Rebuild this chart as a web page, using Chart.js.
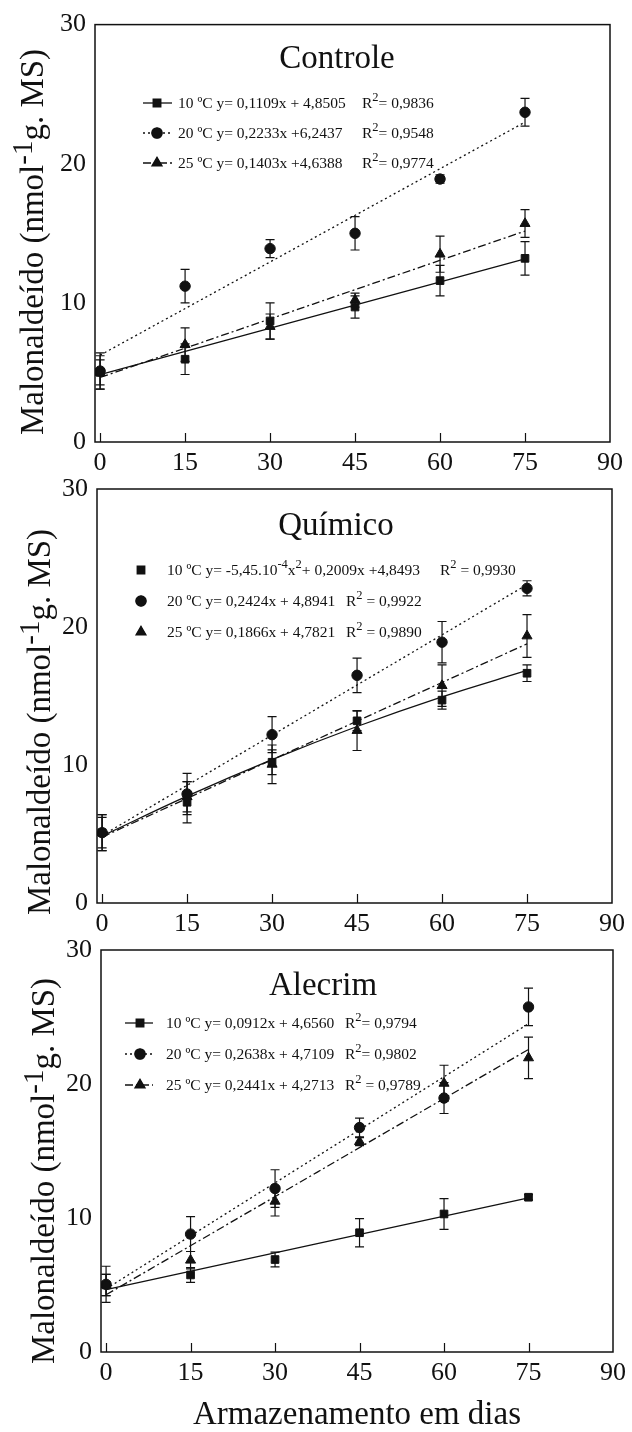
<!DOCTYPE html>
<html>
<head>
<meta charset="utf-8">
<script src="https://cdn.jsdelivr.net/npm/chart.js@4.4.0/dist/chart.umd.min.js"></script>
<style>
  html, body { margin: 0; padding: 0; background: #fff; }
  #wrap { position: relative; width: 632px; height: 1432px; overflow: hidden; background: #fff; }
  canvas { position: absolute; left: 0; }
</style>
</head>
<body>
<div id="wrap">
  <canvas id="controle" width="632" height="480" style="top:0px"></canvas>
  <canvas id="quimico" width="632" height="490" style="top:455px"></canvas>
  <canvas id="alecrim" width="632" height="517" style="top:915px"></canvas>
</div>
<script>
// dias de armazenamento
const dias = [0, 15, 30, 45, 60, 75];
const xTicks = [0, 15, 30, 45, 60, 75, 90];
const yTicks = [0, 10, 20, 30];
const retaX = [0, 75];

// Controle (médias e desvios)
const controle10 = [5.0, 5.95, 8.7, 9.7, 11.6, 13.2];
const controle10Err = [1.2, 1.1, 1.3, 0.8, 1.1, 1.2];
const controle20 = [5.1, 11.2, 13.9, 15.0, 18.9, 23.7];
const controle20Err = [1.3, 1.2, 0.65, 1.2, 0.3, 1.0];
const controle25 = [5.0, 7.0, 8.3, 10.2, 13.5, 15.7];
const controle25Err = [0.9, 1.2, 0.9, 0.5, 1.3, 1.0];
const controleReta10 = [4.85, 13.17];
const controleReta20 = [6.24, 22.99];
const controleReta25 = [4.64, 15.16];

// Químico
const quimico10 = [5.1, 7.3, 10.2, 13.2, 14.7, 16.65];
const quimico10Err = [1.3, 1.5, 0.9, 0.7, 0.65, 0.6];
const quimico20 = [5.1, 7.9, 12.2, 16.5, 18.9, 22.8];
const quimico20Err = [1.3, 1.5, 1.3, 1.25, 1.5, 0.55];
const quimico25 = [5.1, 7.7, 10.05, 12.5, 15.75, 19.35];
const quimico25Err = [1.1, 1.1, 1.4, 1.45, 1.5, 1.55];
const quimicoCurva10 = [4.85, 7.74, 10.39, 12.79, 14.94, 16.85]; // ajuste quadrático, nos dias
const quimicoReta20 = [4.89, 23.07];
const quimicoReta25 = [4.78, 18.78];

// Alecrim
const alecrim10 = [5.0, 5.75, 6.9, 8.9, 10.3, 11.55];
const alecrim10Err = [0.8, 0.55, 0.55, 1.05, 1.15, 0.2];
const alecrim20 = [5.05, 8.8, 12.2, 16.75, 18.95, 25.75];
const alecrim20Err = [1.35, 1.3, 1.4, 0.7, 1.15, 1.4];
const alecrim25 = [5.0, 6.85, 11.25, 15.7, 20.05, 21.95];
const alecrim25Err = [0.8, 0.65, 1.1, 0.3, 1.35, 1.55];
const alecrimReta10 = [4.66, 11.5];
const alecrimReta20 = [4.71, 24.5];
const alecrimReta25 = [4.27, 22.58];

// textos ("^" = sobrescrito)
const tituloY = ['Malonaldeído (nmol', '^-1', 'g. MS)'];
const tituloX = 'Armazenamento em dias';
const legendaControle = [
    [['10 ºC y= 0,1109x + 4,8505'], ['R', '^2', '= 0,9836']],
    [['20 ºC y= 0,2233x +6,2437'], ['R', '^2', '= 0,9548']],
    [['25 ºC y= 0,1403x +4,6388'], ['R', '^2', '= 0,9774']]
];
const legendaQuimico = [
    [['10 ºC y= -5,45.10', '^-4', 'x', '^2', '+ 0,2009x +4,8493'], ['R', '^2', ' = 0,9930']],
    [['20 ºC y= 0,2424x + 4,8941'], ['R', '^2', ' = 0,9922']],
    [['25 ºC y= 0,1866x + 4,7821'], ['R', '^2', ' = 0,9890']]
];
const legendaAlecrim = [
    [['10 ºC y= 0,0912x + 4,6560'], ['R', '^2', '= 0,9794']],
    [['20 ºC y= 0,2638x + 4,7109'], ['R', '^2', '= 0,9802']],
    [['25 ºC y= 0,2441x + 4,2713'], ['R', '^2', ' = 0,9789']]
];

const serif = "'Liberation Serif', 'Times New Roman', serif";
const preto = '#111';
const marcas = ['rect', 'circle', 'triangle'];
const raios = [5.4, 5.2, 5.8];
const tracos = [[], [2, 3], [8, 3, 2, 3]];

function pontos(xs, ys) {
    return xs.map((x, i) => ({ x: x, y: ys[i] }));
}

function desenhaRuns(ctx, runs, x, y, tam, tamSup, subida) {
    runs.forEach(r => {
        const sup = r.startsWith('^');
        const t = sup ? r.slice(1) : r;
        ctx.font = (sup ? tamSup : tam) + 'px ' + serif;
        ctx.fillText(t, x, sup ? y - subida : y);
        x += ctx.measureText(t).width;
    });
    return x;
}

function larguraRuns(ctx, runs, tam, tamSup) {
    let w = 0;
    runs.forEach(r => {
        const sup = r.startsWith('^');
        const t = sup ? r.slice(1) : r;
        ctx.font = (sup ? tamSup : tam) + 'px ' + serif;
        w += ctx.measureText(t).width;
    });
    return w;
}

function desenhaMarca(ctx, estilo, x, y, r) {
    Chart.helpers.drawPoint(ctx, { pointStyle: estilo, radius: r, borderWidth: 1 }, x, y);
    ctx.fill();
}

// barras de erro, moldura, títulos e legenda
const extras = {
    id: 'extras',
    beforeDatasetsDraw(chart) {
        const ctx = chart.ctx, xs = chart.scales.x, ys = chart.scales.y;
        ctx.save();
        ctx.strokeStyle = preto;
        ctx.lineWidth = 1.2;
        chart.data.datasets.forEach(ds => {
            if (!ds.erros) return;
            ds.data.forEach((p, i) => {
                const e = ds.erros[i];
                const x = xs.getPixelForValue(p.x);
                const y1 = ys.getPixelForValue(p.y - e);
                const y2 = ys.getPixelForValue(p.y + e);
                ctx.beginPath();
                ctx.moveTo(x, y1); ctx.lineTo(x, y2);
                ctx.moveTo(x - 4.5, y1); ctx.lineTo(x + 4.5, y1);
                ctx.moveTo(x - 4.5, y2); ctx.lineTo(x + 4.5, y2);
                ctx.stroke();
            });
        });
        ctx.restore();
    },
    afterDatasetsDraw(chart, args, o) {
        const ctx = chart.ctx, a = chart.chartArea, xs = chart.scales.x;
        ctx.save();
        ctx.strokeStyle = preto;
        ctx.fillStyle = preto;
        ctx.lineWidth = 1.5;
        ctx.strokeRect(a.left, a.top, a.right - a.left, a.bottom - a.top);
        // marcas internas do eixo x
        ctx.lineWidth = 1.2;
        xTicks.slice(0, -1).forEach(v => {
            const x = Math.round(xs.getPixelForValue(v)) + 0.5;
            ctx.beginPath();
            ctx.moveTo(x, a.bottom);
            ctx.lineTo(x, a.bottom - 9);
            ctx.stroke();
        });

        // título do painel
        ctx.font = '33px ' + serif;
        ctx.textAlign = 'center';
        ctx.textBaseline = 'alphabetic';
        ctx.fillText(o.titulo, o.tituloX, o.tituloY);

        // título do eixo y (girado)
        ctx.textAlign = 'left';
        ctx.save();
        ctx.translate(o.yTitX, o.yTitY);
        ctx.rotate(-Math.PI / 2);
        const w = larguraRuns(ctx, tituloY, 33, 29);
        desenhaRuns(ctx, tituloY, -w / 2, 0, 33, 29, 11);
        ctx.restore();

        // legenda
        o.legenda.forEach((linha, i) => {
            const y = o.legY[i];
            if (o.legLinha) {
                ctx.lineWidth = 1.3;
                ctx.setLineDash(tracos[i]);
                ctx.beginPath();
                ctx.moveTo(o.legLinha[0], y);
                ctx.lineTo(o.legLinha[1], y);
                ctx.stroke();
                ctx.setLineDash([]);
            }
            ctx.beginPath();
            desenhaMarca(ctx, marcas[i], o.legPonto, y, raios[i]);
            desenhaRuns(ctx, linha[0], o.legTexto, y + 5, 15.5, 12.5, 7);
            desenhaRuns(ctx, linha[1], o.legR[i], y + 5, 15.5, 12.5, 7);
        });
        ctx.restore();
    }
};

function criaGrafico(id, series, erros, retas, retasX, cfg, extra) {
    const datasets = [];
    series.forEach((s, i) => {
        datasets.push({
            data: pontos(dias, s),
            erros: erros[i],
            showLine: false,
            pointStyle: marcas[i],
            pointRadius: raios[i],
            pointBackgroundColor: preto,
            pointBorderColor: preto,
            pointBorderWidth: 1
        });
    });
    retas.forEach((r, i) => {
        datasets.push({
            data: pontos(retasX[i], r),
            showLine: true,
            pointRadius: 0,
            borderColor: preto,
            borderWidth: 1.3,
            borderDash: tracos[i],
            tension: 0.4,
            fill: false
        });
    });

    return new Chart(document.getElementById(id), {
        type: 'scatter',
        data: { datasets: datasets },
        plugins: [extras],
        options: {
            responsive: false,
            animation: false,
            events: [],
            layout: { padding: { top: cfg.top, right: cfg.right, left: 0, bottom: 0 } },
            plugins: {
                legend: { display: false },
                tooltip: { enabled: false },
                extras: extra
            },
            scales: {
                x: {
                    type: 'linear',
                    min: -0.9,
                    max: 90,
                    afterBuildTicks: s => { s.ticks = xTicks.map(v => ({ value: v })); },
                    afterFit: s => { s.height = cfg.xH; },
                    grid: { display: false, drawTicks: false },
                    border: { display: false },
                    ticks: {
                        color: preto,
                        padding: 6,
                        maxRotation: 0,
                        font: { family: serif, size: 26 }
                    },
                    title: {
                        display: !!cfg.tituloX,
                        text: tituloX,
                        color: preto,
                        padding: 0,
                        font: { family: serif, size: 33, lineHeight: 1 }
                    }
                },
                y: {
                    type: 'linear',
                    min: 0,
                    max: 30,
                    afterBuildTicks: s => { s.ticks = yTicks.map(v => ({ value: v })); },
                    afterFit: s => { s.width = cfg.yW; },
                    grid: { display: false, drawTicks: false },
                    border: { display: false },
                    ticks: {
                        color: preto,
                        padding: 9,
                        font: { family: serif, size: 26 }
                    }
                }
            }
        }
    });
}

criaGrafico('controle',
    [controle10, controle20, controle25],
    [controle10Err, controle20Err, controle25Err],
    [controleReta10, controleReta20, controleReta25],
    [retaX, retaX, retaX],
    { top: 24, right: 22, yW: 95, xH: 38 },
    {
        titulo: 'Controle', tituloX: 337, tituloY: 68,
        yTitX: 43, yTitY: 242,
        legenda: legendaControle,
        legY: [103, 133, 163], legLinha: [143, 172], legPonto: 157,
        legTexto: 178, legR: [362, 362, 362]
    });

criaGrafico('quimico',
    [quimico10, quimico20, quimico25],
    [quimico10Err, quimico20Err, quimico25Err],
    [quimicoCurva10, quimicoReta20, quimicoReta25],
    [dias, retaX, retaX],
    { top: 34, right: 20, yW: 97, xH: 42 },
    {
        titulo: 'Químico', tituloX: 336, tituloY: 80,
        yTitX: 50, yTitY: 267,
        legenda: legendaQuimico,
        legY: [115, 146, 177], legLinha: null, legPonto: 141,
        legTexto: 167, legR: [440, 346, 346]
    });

criaGrafico('alecrim',
    [alecrim10, alecrim20, alecrim25],
    [alecrim10Err, alecrim20Err, alecrim25Err],
    [alecrimReta10, alecrimReta20, alecrimReta25],
    [retaX, retaX, retaX],
    { top: 35, right: 15, yW: 101, xH: 80, tituloX: true },
    {
        titulo: 'Alecrim', tituloX: 323, tituloY: 80,
        yTitX: 54, yTitY: 256,
        legenda: legendaAlecrim,
        legY: [108, 139, 170], legLinha: [125, 153], legPonto: 140,
        legTexto: 166, legR: [345, 345, 345]
    });
</script>
</body>
</html>
